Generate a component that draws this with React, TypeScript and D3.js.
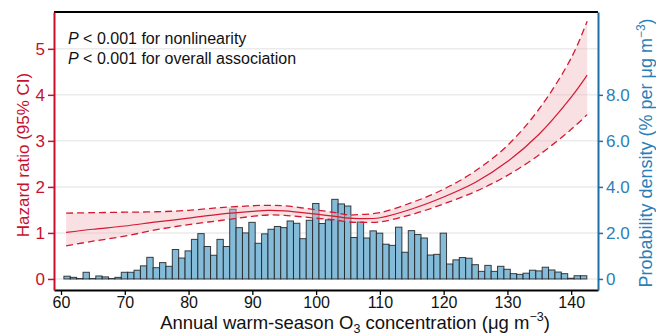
import { useEffect, useRef } from 'react';
import * as d3 from 'd3';

// histogram: density (% per µg m-3) in 1-unit bins starting at 60.45
const binStart = 60.45;
const density = [
  0.12, 0.07, 0.02, 0.29, 0.02, 0.13, 0.09, 0.02, 0.07, 0.29,
  0.29, 0.38, 0.57, 0.94, 0.49, 0.71, 0.55, 1.28, 0.91, 1.22,
  1.72, 1.97, 1.41, 1.03, 1.72, 1.41, 3.03, 2.23, 2.0, 2.46,
  1.55, 1.96, 2.16, 2.28, 2.23, 2.52, 2.42, 1.75, 2.55, 3.28,
  2.41, 2.57, 3.46, 3.26, 3.17, 1.8, 2.48, 1.78, 2.09, 1.99,
  1.51, 1.46, 2.25, 1.16, 2.1, 1.93, 1.78, 1.04, 1.07, 1.99,
  0.65, 0.83, 0.93, 0.9, 0.62, 0.33, 0.59, 0.33, 0.55, 0.42,
  0.23, 0.2, 0.25, 0.38, 0.35, 0.51, 0.39, 0.3, 0.23, 0.03,
  0.14, 0.14,
];

// restricted cubic spline estimate
const o3 = [60.8, 65, 70, 75, 80, 85, 90, 92.5, 95, 100, 103, 105, 107, 110, 115, 120, 125, 130, 135, 140, 142.5];
const hr = [1.01, 1.08, 1.15, 1.24, 1.32, 1.41, 1.47, 1.49, 1.48, 1.41, 1.36, 1.32, 1.31, 1.33, 1.52, 1.78, 2.1, 2.55, 3.15, 3.95, 4.43];
const hrUpper = [1.43, 1.44, 1.45, 1.46, 1.49, 1.55, 1.59, 1.6, 1.59, 1.5, 1.44, 1.39, 1.4, 1.44, 1.66, 1.95, 2.35, 2.9, 3.7, 4.8, 5.6];
const hrLower = [0.72, 0.82, 0.93, 1.07, 1.18, 1.27, 1.36, 1.39, 1.38, 1.32, 1.28, 1.24, 1.23, 1.24, 1.4, 1.63, 1.9, 2.25, 2.7, 3.25, 3.57];

const xTicks = [60, 70, 80, 90, 100, 110, 120, 130, 140];
const hrTicks = [0, 1, 2, 3, 4, 5];
const densTicks = [0, 2, 4, 6, 8];

const RED = '#c8102e';
const BLUE = '#2b7fb8';
const FONT = 'Liberation Sans, Arial, sans-serif';

function SplineChart() {
  const svgRef = useRef<SVGSVGElement>(null);

  useEffect(() => {
    if (!svgRef.current) return;
    const width = 656, height = 335;
    const L = 54, R = 598, T = 12, B = 290;

    const svg = d3.select(svgRef.current);
    svg.selectAll('*').remove();
    svg.attr('width', width).attr('height', height).attr('font-family', FONT);

    const x = d3.scaleLinear().domain([58.9, 144.2]).range([L, R]);
    const yHR = d3.scaleLinear().domain([-0.24, 5.8]).range([B, T]);
    const yD = d3.scaleLinear().domain([-0.48, 11.6]).range([B, T]);

    // gridlines
    svg.append('g').selectAll('line').data(hrTicks).join('line')
      .attr('x1', L).attr('x2', R).attr('y1', d => yHR(d)).attr('y2', d => yHR(d))
      .attr('stroke', '#ebebeb').attr('stroke-width', 1.5);

    // histogram
    svg.append('g').selectAll('rect').data(density).join('rect')
      .attr('x', (_, i) => x(binStart + i))
      .attr('width', (_, i) => x(binStart + i + 1) - x(binStart + i))
      .attr('y', d => yD(d))
      .attr('height', d => yD(0) - yD(d))
      .attr('fill', '#84bbd9').attr('stroke', '#1e1e1e').attr('stroke-opacity', 0.85).attr('stroke-width', 1);

    const pts = o3.map((v, i) => ({ v, h: hr[i], u: hrUpper[i], l: hrLower[i] }));
    const area = d3.area<typeof pts[0]>().x(d => x(d.v)).y0(d => yHR(d.l)).y1(d => yHR(d.u)).curve(d3.curveCatmullRom);
    svg.append('path').datum(pts).attr('d', area).attr('fill', '#eeb4bd').attr('fill-opacity', 0.42);

    const mk = (acc: (d: typeof pts[0]) => number) =>
      d3.line<typeof pts[0]>().x(d => x(d.v)).y(d => yHR(acc(d))).curve(d3.curveCatmullRom);
    svg.append('path').datum(pts).attr('d', mk(d => d.h)).attr('fill', 'none')
      .attr('stroke', '#d31a33').attr('stroke-width', 1.2);
    [d => d.u, d => d.l].forEach((acc: (d: typeof pts[0]) => number) => {
      svg.append('path').datum(pts).attr('d', mk(acc)).attr('fill', 'none')
        .attr('stroke', '#d31a33').attr('stroke-width', 1.3).attr('stroke-dasharray', '7,4');
    });

    // frame
    svg.append('line').attr('x1', L).attr('x2', R).attr('y1', T).attr('y2', T).attr('stroke', '#000').attr('stroke-width', 2);

    // bottom axis
    const gx = svg.append('g').attr('transform', `translate(0,${B})`)
      .call(d3.axisBottom(x).tickValues(xTicks).tickSize(5).tickPadding(2).tickSizeOuter(0));
    gx.select('.domain').attr('stroke', '#000').attr('stroke-width', 2);
    gx.selectAll('.tick line').attr('stroke', '#000').attr('stroke-width', 1.3);
    gx.selectAll('text').attr('fill', '#111').attr('font-size', 16).attr('font-family', FONT);

    // left axis
    const gl = svg.append('g').attr('transform', `translate(${L},0)`)
      .call(d3.axisLeft(yHR).tickValues(hrTicks).tickSize(6).tickPadding(3).tickSizeOuter(0)
        .tickFormat(d3.format('d')));
    gl.select('.domain').attr('stroke', RED).attr('stroke-width', 2);
    gl.selectAll('.tick line').attr('stroke', RED).attr('stroke-width', 1.5);
    gl.selectAll('text').attr('fill', RED).attr('font-size', 17).attr('font-family', FONT);

    // right axis
    const gr = svg.append('g').attr('transform', `translate(${R},0)`)
      .call(d3.axisRight(yD).tickValues(densTicks).tickSize(5).tickPadding(3).tickSizeOuter(0)
        .tickFormat(d => (d === 0 ? '0' : d3.format('.1f')(d as number))));
    gr.select('.domain').attr('stroke', '#1d6fa6').attr('stroke-width', 2);
    gr.selectAll('.tick line').attr('stroke', '#1d6fa6').attr('stroke-width', 1.5);
    gr.selectAll('text').attr('fill', BLUE).attr('font-size', 17).attr('font-family', FONT);

    // axis titles
    svg.append('text').attr('transform', `translate(29,${(T + B) / 2 + 4}) rotate(-90)`)
      .attr('text-anchor', 'middle').attr('fill', RED).attr('font-size', 17).text('Hazard ratio (95% CI)');

    const rt = svg.append('text').attr('transform', `translate(652,${(T + B) / 2 + 2}) rotate(-90)`)
      .attr('text-anchor', 'middle').attr('fill', BLUE).attr('font-size', 18);
    rt.append('tspan').text('Probability density (% per μg m');
    rt.append('tspan').attr('dy', -7).attr('font-size', 12).text('−3');
    rt.append('tspan').attr('dy', 7).text(')');

    const xt = svg.append('text').attr('x', 355).attr('y', 329)
      .attr('text-anchor', 'middle').attr('fill', '#111').attr('font-size', 18.5);
    xt.append('tspan').text('Annual warm-season O');
    xt.append('tspan').attr('dy', 4).attr('font-size', 12.5).text('3');
    xt.append('tspan').attr('dy', -4).text(' concentration (μg m');
    xt.append('tspan').attr('dy', -8).attr('font-size', 12.5).text('−3');
    xt.append('tspan').attr('dy', 8).text(')');

    // annotations
    ['for nonlinearity', 'for overall association'].forEach((s, i) => {
      const t = svg.append('text').attr('x', 68).attr('y', 44 + i * 20).attr('fill', '#111').attr('font-size', 16);
      t.append('tspan').attr('font-style', 'italic').text('P');
      t.append('tspan').text(` < 0.001 ${s}`);
    });
  }, []);

  return <svg ref={svgRef} style={{ position: 'absolute', left: 0, top: 0 }} />;
}

export default function App() {
  return <SplineChart />;
}
